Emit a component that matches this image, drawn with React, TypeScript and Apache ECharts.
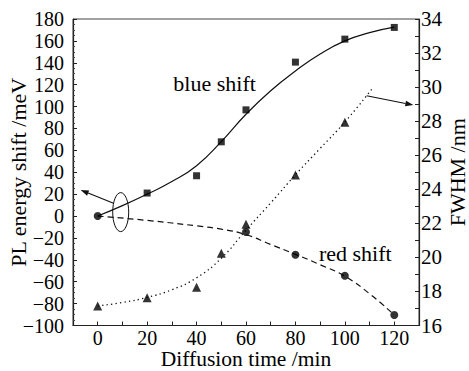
import React, { useEffect, useRef } from "react";
import * as echarts from "echarts";

// ---- data ----
const xTickLabels = [0, 20, 40, 60, 80, 100, 120];
const blueX = [20, 40, 50, 60, 80, 100, 120];
const blueY = [21, 36.8, 67.8, 97, 140.6, 161.6, 172.3];
const blueFitX = [0, 10, 20, 30, 40, 50, 60, 70, 80, 90, 100, 110, 120];
const blueFitY = [0, 9.5, 20, 31.5, 46, 68, 93, 114.5, 132.5, 148, 160, 167.5, 172.5];
const redX = [0, 60, 80, 100, 120];
const redY = [0, -14.6, -35.3, -54.5, -90.4];
const redFitX = [0, 20, 40, 50, 60, 70, 80, 90, 100, 110, 120];
const redFitY = [0, -4, -9, -12, -17, -26, -35, -44.5, -55, -71, -90.4];
const fwhmX = [0, 20, 40, 50, 60, 80, 100];
const fwhmY = [17.15, 17.63, 18.24, 20.24, 21.94, 24.84, 27.93];
const fwhmFitX = [0, 10, 20, 30, 40, 50, 60, 70, 80, 90, 100, 111];
const fwhmFitY = [17.15, 17.35, 17.65, 18.1, 18.8, 19.95, 21.6, 23.2, 24.85, 26.4, 27.95, 29.9];

// annotations (data coordinates on the left axis)
const blueLabel = { text: "blue shift", x: 30.6, y: 121 };
const redLabel = { text: "red shift", x: 89.5, y: -33.8 };
const ellipseAt = { x: 9.3, y: 3.6 };
const leftArrow = { from: [6.4, 11.7], to: [-6.9, 23.7] };
const rightArrow = { from: [108.8, 109.9], to: [127.7, 101.4] };

const FONT = "Liberation Serif";
const zip = (xs: number[], ys: number[]) => xs.map((x, i) => [x, ys[i]]);
const fmt = (v: number) => (v < 0 ? "\u2212" + Math.abs(v) : String(v));

export default function App() {
  const ref = useRef<HTMLDivElement>(null);
  useEffect(() => {
    if (!ref.current) return;
    const chart = echarts.init(ref.current, undefined, { renderer: "svg" });
    const axisLine = { show: true, onZero: false, lineStyle: { color: "#222", width: 1.2 } };
    chart.setOption({
      animation: false,
      backgroundColor: "#fff",
      textStyle: { fontFamily: FONT },
      grid: {
        left: 73,
        right: 50,
        top: 19,
        bottom: 45.5,
        containLabel: false,
        outerBoundsMode: "none",
        show: true,
        borderColor: "#444",
        borderWidth: 1,
      },
      xAxis: {
        type: "value",
        min: -10,
        max: 130,
        interval: 10,
        axisLine,
        axisTick: { inside: true, length: 4, lineStyle: { color: "#222" } },
        splitLine: { show: false },
        axisLabel: {
          margin: 4,
          fontSize: 20,
          lineHeight: 16,
          fontFamily: FONT,
          color: "#000",
          formatter: (v: number) => (xTickLabels.includes(v) ? fmt(v) : ""),
        },
        name: "Diffusion time /min",
        nameLocation: "middle",
        nameGap: 24.5,
        nameMoveOverlap: false,
        nameTextStyle: { fontSize: 21.5, lineHeight: 17, fontFamily: FONT, color: "#000" },
      },
      yAxis: [
        {
          type: "value",
          min: -100,
          max: 180,
          interval: 20,
          axisLine,
          axisTick: { inside: true, length: 4, lineStyle: { color: "#222" } },
          minorTick: { show: true, splitNumber: 4, length: 2, lineStyle: { color: "#444" } },
          splitLine: { show: false },
          axisLabel: { margin: 9, fontSize: 20, fontFamily: FONT, color: "#000", formatter: fmt },
          name: "PL energy shift /meV",
          nameLocation: "middle",
          nameRotate: 90,
          nameGap: 44,
          nameMoveOverlap: false,
          nameTextStyle: { fontSize: 22, fontFamily: FONT, color: "#000" },
        },
        {
          type: "value",
          position: "right",
          min: 16,
          max: 34,
          interval: 1,
          axisLine,
          axisTick: { inside: true, length: 4, lineStyle: { color: "#222" } },
          splitLine: { show: false },
          axisLabel: {
            margin: 2,
            fontSize: 21,
            fontFamily: FONT,
            color: "#000",
            formatter: (v: number) => (v % 2 === 0 ? String(v) : ""),
          },
          name: "FWHM /nm",
          nameLocation: "middle",
          nameRotate: 90,
          nameGap: 27,
          nameMoveOverlap: false,
          nameTextStyle: { fontSize: 22, fontFamily: FONT, color: "#000" },
        },
      ],
      series: [
        {
          type: "line",
          data: zip(blueFitX, blueFitY),
          smooth: 0.5,
          showSymbol: false,
          lineStyle: { color: "#111", width: 1.2 },
          z: 2,
        },
        {
          type: "scatter",
          data: zip(blueX, blueY),
          symbol: "rect",
          symbolSize: 7,
          itemStyle: { color: "#000" },
          z: 3,
        },
        {
          type: "line",
          data: zip(redFitX, redFitY),
          smooth: 0.5,
          showSymbol: false,
          lineStyle: { color: "#111", width: 1.2, type: [6, 4] },
          z: 2,
        },
        {
          type: "scatter",
          data: zip(redX, redY),
          symbol: "circle",
          symbolSize: 8,
          itemStyle: { color: "#000" },
          z: 3,
        },
        {
          type: "line",
          yAxisIndex: 1,
          data: zip(fwhmFitX, fwhmFitY),
          smooth: 0.5,
          showSymbol: false,
          lineStyle: { color: "#111", width: 1.3, type: [1.3, 3.2] },
          z: 2,
        },
        {
          type: "scatter",
          yAxisIndex: 1,
          data: zip(fwhmX, fwhmY),
          symbol: "triangle",
          symbolSize: 9,
          itemStyle: { color: "#000" },
          z: 3,
        },
      ],
    });

    const px = (p: number[]) =>
      chart.convertToPixel({ xAxisIndex: 0, yAxisIndex: 0 }, p) as number[];
    const arrow = (a: { from: number[]; to: number[] }) => {
      const p0 = px(a.from);
      const p1 = px(a.to);
      const dx = p1[0] - p0[0];
      const dy = p1[1] - p0[1];
      const len = Math.hypot(dx, dy);
      const ux = dx / len;
      const uy = dy / len;
      const hl = 8;
      const hw = 2.8;
      const bx = p1[0] - ux * hl;
      const by = p1[1] - uy * hl;
      return [
        {
          type: "line",
          shape: { x1: p0[0], y1: p0[1], x2: bx, y2: by },
          style: { stroke: "#111", lineWidth: 1.2 },
        },
        {
          type: "polygon",
          shape: {
            points: [
              [p1[0], p1[1]],
              [bx - uy * hw, by + ux * hw],
              [bx + uy * hw, by - ux * hw],
            ],
          },
          style: { fill: "#111" },
        },
      ];
    };
    const e = px([ellipseAt.x, ellipseAt.y]);
    const bl = px([blueLabel.x, blueLabel.y]);
    const rl = px([redLabel.x, redLabel.y]);
    chart.setOption({
      graphic: [
        {
          type: "ellipse",
          shape: { cx: e[0], cy: e[1], rx: 8, ry: 19.5 },
          style: { fill: "none", stroke: "#111", lineWidth: 1 },
          z: 10,
        },
        ...arrow(leftArrow),
        ...arrow(rightArrow),
        {
          type: "text",
          x: bl[0],
          y: bl[1],
          style: { text: blueLabel.text, fontSize: 22, fontFamily: FONT, fill: "#000", align: "left", verticalAlign: "middle" },
        },
        {
          type: "text",
          x: rl[0],
          y: rl[1],
          style: { text: redLabel.text, fontSize: 22, fontFamily: FONT, fill: "#000", align: "left", verticalAlign: "middle" },
        },
      ],
    });
    return () => chart.dispose();
  }, []);
  return (
    <div
      ref={ref}
      style={{ position: "fixed", left: 0, top: 0, width: 469, height: 371 }}
    />
  );
}
